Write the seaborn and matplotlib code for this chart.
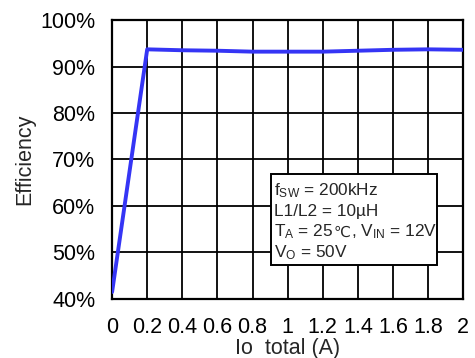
import matplotlib
matplotlib.use("Agg")
import matplotlib.pyplot as plt
from matplotlib.patches import Rectangle
import seaborn as sns
import pandas as pd

# Efficiency vs total output current
io_total = [0.0, 0.2, 0.4, 0.6, 0.8, 1.0, 1.2, 1.4, 1.6, 1.8, 2.0]
efficiency = [41.5, 93.7, 93.5, 93.4, 93.2, 93.2, 93.2, 93.4, 93.6, 93.7, 93.6]
x_ticks = [0, 0.2, 0.4, 0.6, 0.8, 1, 1.2, 1.4, 1.6, 1.8, 2]
x_tick_labels = ["0", "0.2", "0.4", "0.6", "0.8", "1", "1.2", "1.4", "1.6", "1.8", "2"]
y_ticks = [40, 50, 60, 70, 80, 90, 100]
y_tick_labels = ["40%", "50%", "60%", "70%", "80%", "90%", "100%"]
# Each condition line is a list of pieces drawn one after another
conditions = [
    [r"f$_{\rm SW}$ = 200kHz"],
    ["L1/L2 = 10µH"],
    [r"T$_{\rm A}$ = 25", "℃", r", V$_{\rm IN}$ = 12V"],
    [r"V$_{\rm O}$ = 50V"],
]

sns.set_style("white")
plt.rcParams["font.family"] = ["Liberation Sans", "DejaVu Sans"]
plt.rcParams["mathtext.fontset"] = "custom"
plt.rcParams["mathtext.rm"] = "Liberation Sans"
plt.rcParams["mathtext.it"] = "Liberation Sans:italic"
plt.rcParams["mathtext.bf"] = "Liberation Sans:bold"

df = pd.DataFrame({"io": io_total, "eff": efficiency})

fig = plt.figure(figsize=(4.75, 3.58), dpi=100)
ax = fig.add_axes([0.236, 0.165, 0.739, 0.779])

sns.lineplot(data=df, x="io", y="eff", ax=ax, color="#3535f5", linewidth=2.8,
             zorder=3)

ax.set_xlim(0, 2)
ax.set_ylim(40, 100)
ax.set_xticks(x_ticks)
ax.set_xticklabels(x_tick_labels)
ax.set_yticks(y_ticks)
ax.set_yticklabels(y_tick_labels)
ax.tick_params(axis="both", length=0, labelsize=15.5, colors="black")
ax.tick_params(axis="y", pad=12)
ax.tick_params(axis="x", pad=13)

ax.grid(True, color="black", linewidth=1.3)
for s in ax.spines.values():
    s.set_visible(True)
    s.set_color("black")
    s.set_linewidth(1.6)

ax.set_xlabel("Io  total (A)", fontsize=15.5, labelpad=0)
ax.set_ylabel("Efficiency", fontsize=15.5, labelpad=4)

# Operating conditions box
ax.add_patch(Rectangle((0.904, 47.2), 0.946, 19.7, facecolor="white",
                       edgecolor="black", linewidth=1.4, zorder=4))
for i, pieces in enumerate(conditions):
    y = 62.4 - i * 4.5
    prev = ax.text(0.925, y, pieces[0], fontsize=12.4, va="baseline",
                   ha="left", zorder=5)
    for piece in pieces[1:]:
        is_symbol = piece == "℃"
        prev = ax.annotate(piece, xy=(1, y), xycoords=(prev, "data"),
                           fontsize=10.8 if is_symbol else 12.4,
                           va="baseline", ha="left", zorder=5,
                           annotation_clip=False)

fig.savefig("out.png", dpi=100)
